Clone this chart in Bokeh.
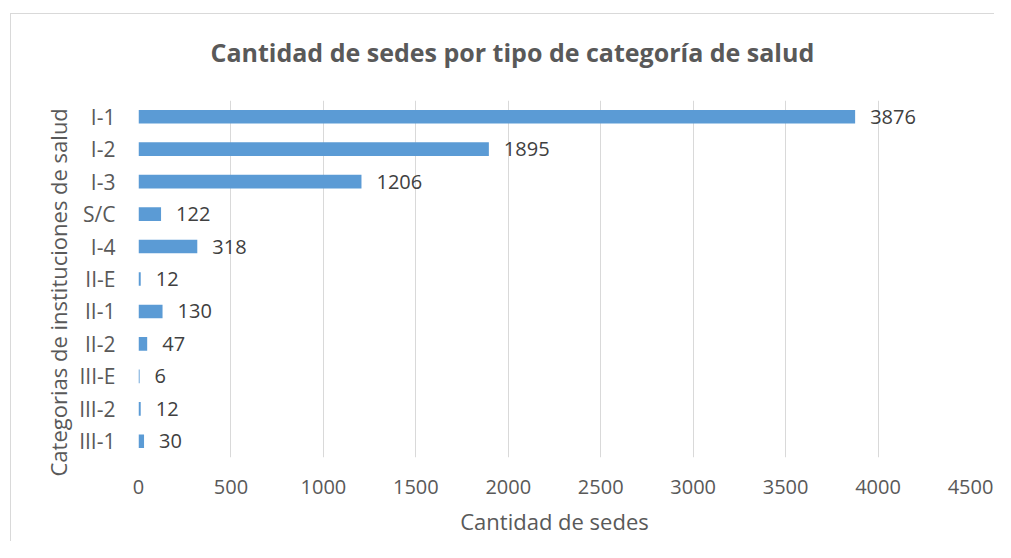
from bokeh.plotting import figure
from bokeh.models import ColumnDataSource, FactorRange, Range1d, FixedTicker, Title
from bokeh.embed import file_html
from bokeh.resources import INLINE
from bokeh.core.properties import value

categories = ["I-1", "I-2", "I-3", "S/C", "I-4", "II-E", "II-1", "II-2", "III-E", "III-2", "III-1"]
counts = [3876, 1895, 1206, 122, 318, 12, 130, 47, 6, 12, 30]
x_ticks = [0, 500, 1000, 1500, 2000, 2500, 3000, 3500, 4000, 4500]

FONT = "Open Sans"
GRAY = "#595959"

src = ColumnDataSource(dict(cat=categories, val=counts, lab=[str(v) for v in counts]))

p = figure(
    width=984, height=528, margin=(13, 0, 0, 10),
    y_range=FactorRange(factors=list(reversed(categories))),
    x_range=Range1d(0, 4500),
    output_backend="svg", toolbar_location=None,
    min_border_left=127, min_border_right=25, min_border_top=86, min_border_bottom=85,
    styles={"border-top": "1px solid #d9d9d9", "border-left": "1px solid #d9d9d9"},
)
p.outline_line_color = None

p.hbar(y="cat", right="val", left=0, height=0.42, source=src, color="#5b9bd5", line_color=None)
p.text(x="val", y="cat", text="lab", source=src, x_offset=15, text_align="left",
       text_baseline="middle", text_font=value(FONT), text_font_size="20px", text_color="#404040")

spacer = Title(text=" ", text_font_size="1px", standoff=26)
p.add_layout(spacer, "above")

t = Title(text="Cantidad de sedes por tipo de categoría de salud", align="left", offset=72,
          text_font=FONT, text_font_size="25px", text_font_style="bold", text_color=GRAY,
          standoff=6)
p.add_layout(t, "above")

yl = Title(text="Categorias de instituciones de salud", align="left", offset=-19,
           text_font=FONT, text_font_size="22px", text_font_style="normal", text_color=GRAY,
           standoff=8)
p.add_layout(yl, "left")

p.xaxis.ticker = FixedTicker(ticks=x_ticks)
p.xaxis.axis_line_color = None
p.xaxis.major_tick_line_color = None
p.xaxis.minor_tick_line_color = None
p.xaxis.major_label_text_font = FONT
p.xaxis.major_label_text_font_size = "20px"
p.xaxis.major_label_text_color = GRAY
p.xaxis.major_label_standoff = 16
p.xaxis.axis_label = "Cantidad de sedes"
p.xaxis.axis_label_text_font = FONT
p.xaxis.axis_label_text_font_size = "22px"
p.xaxis.axis_label_text_font_style = "normal"
p.xaxis.axis_label_text_color = GRAY
p.xaxis.axis_label_standoff = 9

p.yaxis.axis_line_color = None
p.yaxis.major_tick_line_color = None
p.yaxis.minor_tick_line_color = None
p.yaxis.major_label_text_font = FONT
p.yaxis.major_label_text_font_size = "21px"
p.yaxis.major_label_text_color = GRAY
p.yaxis.major_label_standoff = 17

p.xgrid.grid_line_color = "#d9d9d9"
p.xgrid.grid_line_width = 1
p.ygrid.grid_line_color = None

open("out.html", "w").write(file_html(p, INLINE))
